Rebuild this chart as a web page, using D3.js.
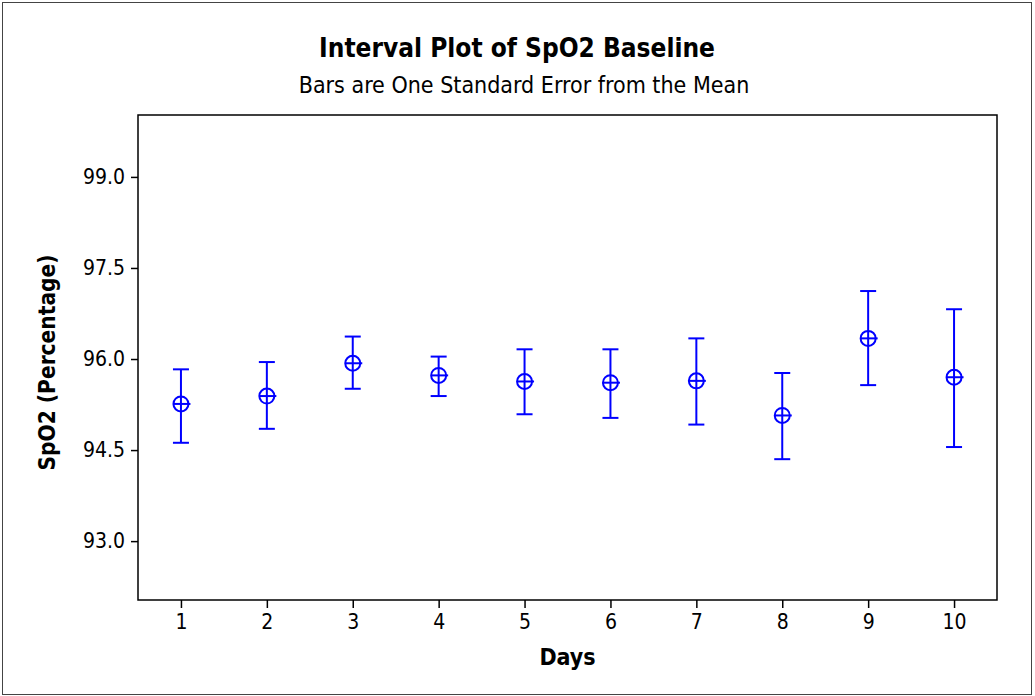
<!doctype html>
<html>
<head>
<meta charset="UTF-8">
<title>Interval Plot of SpO2 Baseline</title>
<script src="https://d3js.org/d3.v7.min.js"></script>
<style>
  body { margin: 0; background: #fff; }
  svg text { font-family: "DejaVu Sans Condensed", "DejaVu Sans", sans-serif; font-stretch: condensed; fill: #000; }
</style>
</head>
<body>
<svg width="1035" height="696"></svg>
<script>
// values
var days = [1, 2, 3, 4, 5, 6, 7, 8, 9, 10];
var means = [95.26, 95.39, 95.93, 95.73, 95.63, 95.61, 95.64, 95.07, 96.34, 95.70];
var upper = [95.83, 95.95, 96.37, 96.04, 96.16, 96.16, 96.34, 95.77, 97.12, 96.82];
var lower = [94.62, 94.85, 95.51, 95.39, 95.09, 95.03, 94.92, 94.35, 95.57, 94.55];
var yTicks = [93.0, 94.5, 96.0, 97.5, 99.0];

var svg = d3.select("svg");
var blue = "#0000ff";

// outer border
svg.append("rect")
  .attr("x", 2.5).attr("y", 2.5)
  .attr("width", 1029).attr("height", 692)
  .attr("fill", "none").attr("stroke", "#444").attr("stroke-width", 1);

var pLeft = 138, pRight = 997, pTop = 115, pBottom = 600;

var x = d3.scaleLinear().domain([0.5, 10.5]).range([pLeft, pRight]);
var y = d3.scaleLinear().domain([92.03, 100.02]).range([pBottom, pTop]);

// titles
svg.append("text").attr("x", 517).attr("y", 57)
  .attr("text-anchor", "middle").attr("font-size", 26).attr("font-weight", "bold")
  .text("Interval Plot of SpO2 Baseline");
svg.append("text").attr("x", 524).attr("y", 93)
  .attr("text-anchor", "middle").attr("font-size", 23)
  .text("Bars are One Standard Error from the Mean");

// axes
var yAxis = d3.axisLeft(y).tickValues(yTicks).tickFormat(d3.format(".1f"))
  .tickSize(7).tickSizeOuter(0).tickPadding(6);
var gy = svg.append("g").attr("transform", "translate(" + pLeft + ",0)").call(yAxis);

var xAxis = d3.axisBottom(x).tickValues(days).tickFormat(d3.format("d"))
  .tickSize(8).tickSizeOuter(0).tickPadding(6);
var gx = svg.append("g").attr("transform", "translate(0," + pBottom + ")").call(xAxis);

[gy, gx].forEach(function(g){
  g.select(".domain").remove();
  g.selectAll(".tick line").attr("stroke", "#000").attr("stroke-width", 1.5);
  g.selectAll(".tick text").attr("font-size", 21).attr("fill", "#000");
});

// plot frame
svg.append("rect")
  .attr("x", pLeft).attr("y", pTop)
  .attr("width", pRight - pLeft).attr("height", pBottom - pTop)
  .attr("fill", "none").attr("stroke", "#000").attr("stroke-width", 1.5);

// axis labels
svg.append("text").attr("x", (pLeft + pRight) / 2).attr("y", 665)
  .attr("text-anchor", "middle").attr("font-size", 23).attr("font-weight", "bold")
  .text("Days");
svg.append("text")
  .attr("transform", "translate(55," + ((pTop + pBottom) / 2 + 5) + ") rotate(-90)")
  .attr("text-anchor", "middle").attr("font-size", 22.5).attr("font-weight", "bold")
  .text("SpO2 (Percentage)");

// intervals
var capW = 8, r = 7.5;
var g = svg.append("g").attr("stroke", blue).attr("stroke-width", 2).attr("fill", "none");
days.forEach(function(d, i){
  var cx = x(d), cy = y(means[i]);
  g.append("line").attr("x1", cx).attr("x2", cx).attr("y1", y(upper[i])).attr("y2", y(lower[i]));
  g.append("line").attr("x1", cx - capW).attr("x2", cx + capW).attr("y1", y(upper[i])).attr("y2", y(upper[i]));
  g.append("line").attr("x1", cx - capW).attr("x2", cx + capW).attr("y1", y(lower[i])).attr("y2", y(lower[i]));
  g.append("circle").attr("cx", cx).attr("cy", cy).attr("r", r);
  g.append("line").attr("x1", cx - r).attr("x2", cx + r + 2).attr("y1", cy).attr("y2", cy);
});
</script>
</body>
</html>
